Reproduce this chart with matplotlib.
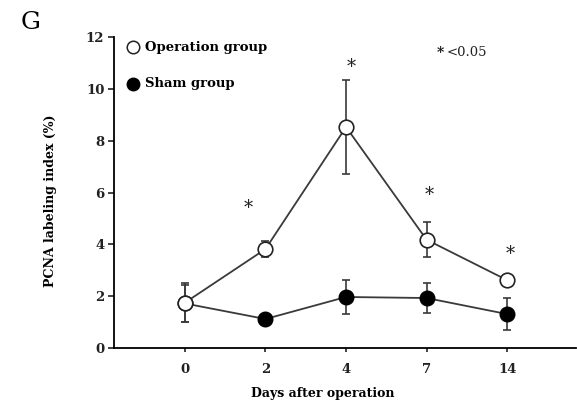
import matplotlib
matplotlib.use("Agg")
import matplotlib.pyplot as plt
import numpy as np

plt.rcParams['font.family'] = ['DejaVu Serif']

days = ["0", "2", "4", "7", "14"]
operation_mean = [1.75, 3.82, 8.53, 4.18, 2.62]
operation_err = [0.75, 0.30, 1.80, 0.68, 0.10]
sham_mean = [1.72, 1.12, 1.97, 1.93, 1.31]
sham_err = [0.70, 0.05, 0.64, 0.58, 0.62]
signif_x = [0.78, 2.06, 3.03, 4.04]
signif_y = [5.4, 10.85, 5.9, 3.62]

fig = plt.figure(figsize=(5.77, 4.08), dpi=100)
ax = fig.add_axes([0.1976, 0.147, 0.8, 0.762])

x = np.arange(len(days))
line_col = "#3a3a3a"

ax.errorbar(x, sham_mean, yerr=sham_err, fmt='o-', color=line_col, ecolor=line_col,
            markerfacecolor='black', markeredgecolor='black', markersize=10.5,
            lw=1.3, elinewidth=1.2, capsize=3, capthick=1.2, zorder=2)
ax.errorbar(x, operation_mean, yerr=operation_err, fmt='o-', color=line_col, ecolor=line_col,
            markerfacecolor='white', markeredgecolor='#222222', markeredgewidth=1.2,
            markersize=10.5, lw=1.3, elinewidth=1.2, capsize=3, capthick=1.2, zorder=3)

for sx, sy in zip(signif_x, signif_y):
    ax.text(sx, sy, "*", ha='center', va='center', fontsize=13, color='#222222')

ax.set_xlim(-0.88, 4.85)
ax.set_ylim(0, 12)
ax.set_xticks(x)
ax.set_xticklabels(days)
ax.set_yticks([0, 2, 4, 6, 8, 10, 12])
ax.spines['top'].set_visible(False)
ax.spines['right'].set_visible(False)
ax.spines['left'].set_linewidth(1.3)
ax.spines['bottom'].set_linewidth(1.3)
ax.tick_params(axis='y', direction='out', length=4, width=1.2, labelsize=9.5, colors='#222222', pad=3)
ax.tick_params(axis='x', direction='out', length=3, width=1.2, labelsize=9.5, colors='#222222', pad=8)
for lbl in ax.get_xticklabels() + ax.get_yticklabels():
    lbl.set_fontweight('bold')

ax.set_xlabel("Days after operation", fontsize=9, fontweight='bold')
ax.set_ylabel("PCNA labeling index (%)", fontsize=9, fontweight='bold')
ax.xaxis.set_label_coords(0.453, -0.125)
ax.yaxis.set_label_coords(-0.124, 0.473)

# legend drawn by hand
ax.plot([-0.65], [11.6], 'o', markersize=9, markerfacecolor='white',
        markeredgecolor='#222222', markeredgewidth=1.1, clip_on=False)
ax.text(-0.5, 11.6, "Operation group", fontsize=9.5, fontweight='bold', va='center', ha='left')
ax.plot([-0.65], [10.2], 'o', markersize=9, color='black', clip_on=False)
ax.text(-0.5, 10.2, "Sham group", fontsize=9.5, fontweight='bold', va='center', ha='left')
ax.text(3.12, 11.4, "*", fontsize=10, fontweight='bold', va='center', ha='left', color='#111111')
ax.text(3.25, 11.4, "<0.05", fontsize=9.5, va='center', ha='left', color='#222222')

fig.text(0.035, 0.945, "G", fontsize=18, va='center', ha='left')

fig.savefig("out.png", dpi=100)
